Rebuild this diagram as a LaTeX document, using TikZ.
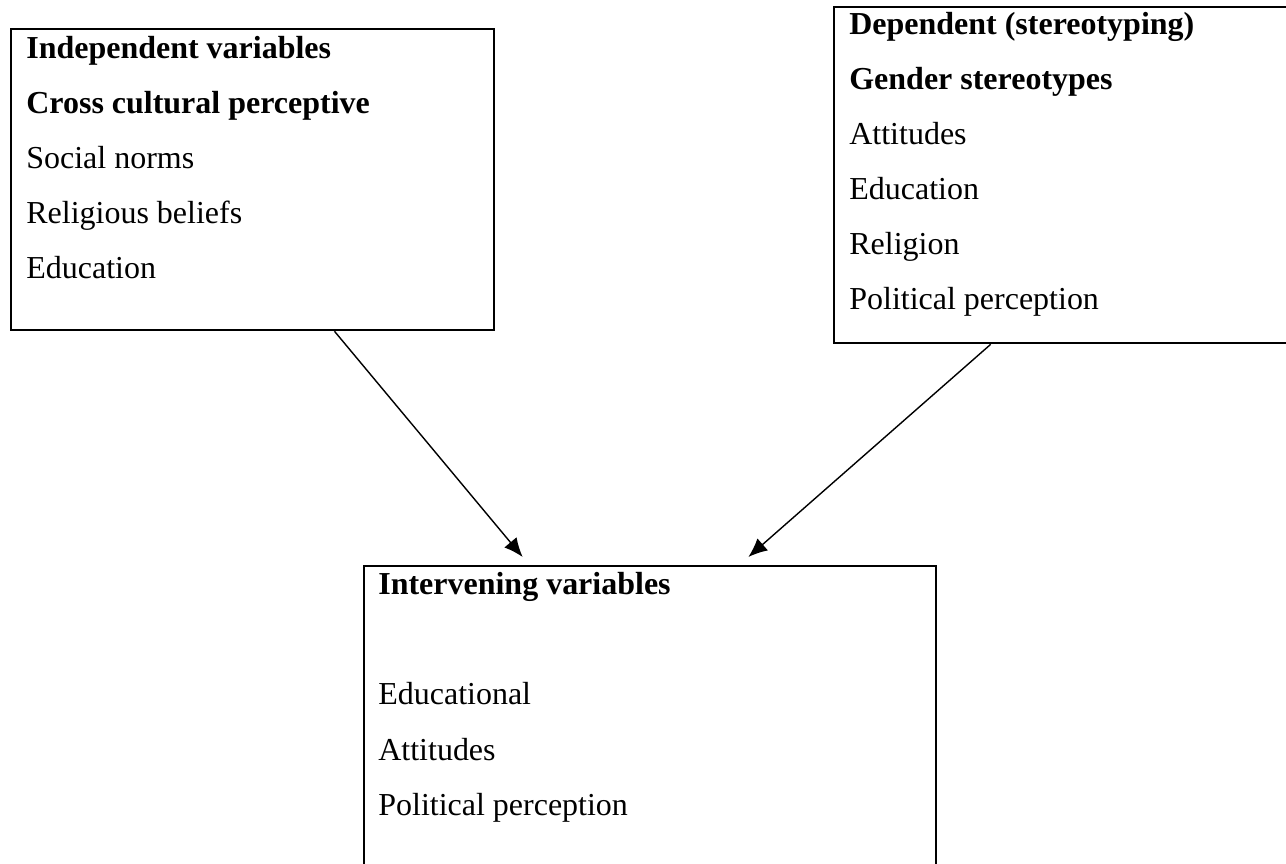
\documentclass[tikz,border=0pt]{standalone}
\usepackage{fontspec}
\setmainfont{Liberation Serif}
\usetikzlibrary{calc,positioning,arrows.meta}
\tikzstyle{box} = [draw, line width=1.3pt, rectangle, inner sep=0pt, anchor=north west]
\tikzstyle{item} = [anchor=base west, inner sep=0pt, font=\fontsize{18.2}{22}\selectfont]
\tikzstyle{link} = [-{Latex[length=3.8mm,width=3.2mm]}, line width=0.8pt]

\begin{document}
\begin{tikzpicture}
    \clip (0,0) rectangle (25.72,17.26); % page size of the picture

    % the three boxes
    \node[box, minimum width=9.67cm, minimum height=6.02cm] (indep) at (0.19,16.70) {};
    \node[box, minimum width=9.26cm, minimum height=6.72cm] (dep) at (16.66,17.14) {};
    \node[box, minimum width=11.44cm, minimum height=6.30cm] (interv) at (7.26,5.96) {};

    % lines of text, one node per line
    \foreach \t [count=\i] in {\textbf{Independent variables},\textbf{Cross cultural perceptive},Social norms,Religious beliefs,Education}
      \node[item] (indep-\i) at ($(indep.north west)+(0.33,{-0.62-1.1*(\i-1)})$) {\t};
    \foreach \t [count=\i] in {\textbf{Dependent (stereotyping)},\textbf{Gender stereotypes},Attitudes,Education,Religion,Political perception}
      \node[item] (dep-\i) at ($(dep.north west)+(0.32,{-0.58-1.1*(\i-1)})$) {\t};
    \foreach \t/\k in {\textbf{Intervening variables}/0,Educational/2,Attitudes/3,Political perception/4}
      \node[item] (interv-\k) at ($(interv.north west)+(0.30,{-0.60-1.1*\k})$) {\t};

    % arrows into the lower box
    \draw[link] ($(indep.south west)!0.669!(indep.south east)$)
        -- ($(interv.north west)!0.278!(interv.north east)+(0,0.16)$);
    \draw[link] ($(dep.south west)!0.339!(dep.south east)$)
        -- ($(interv.north west)!0.671!(interv.north east)+(0,0.16)$);
\end{tikzpicture}
\end{document}
